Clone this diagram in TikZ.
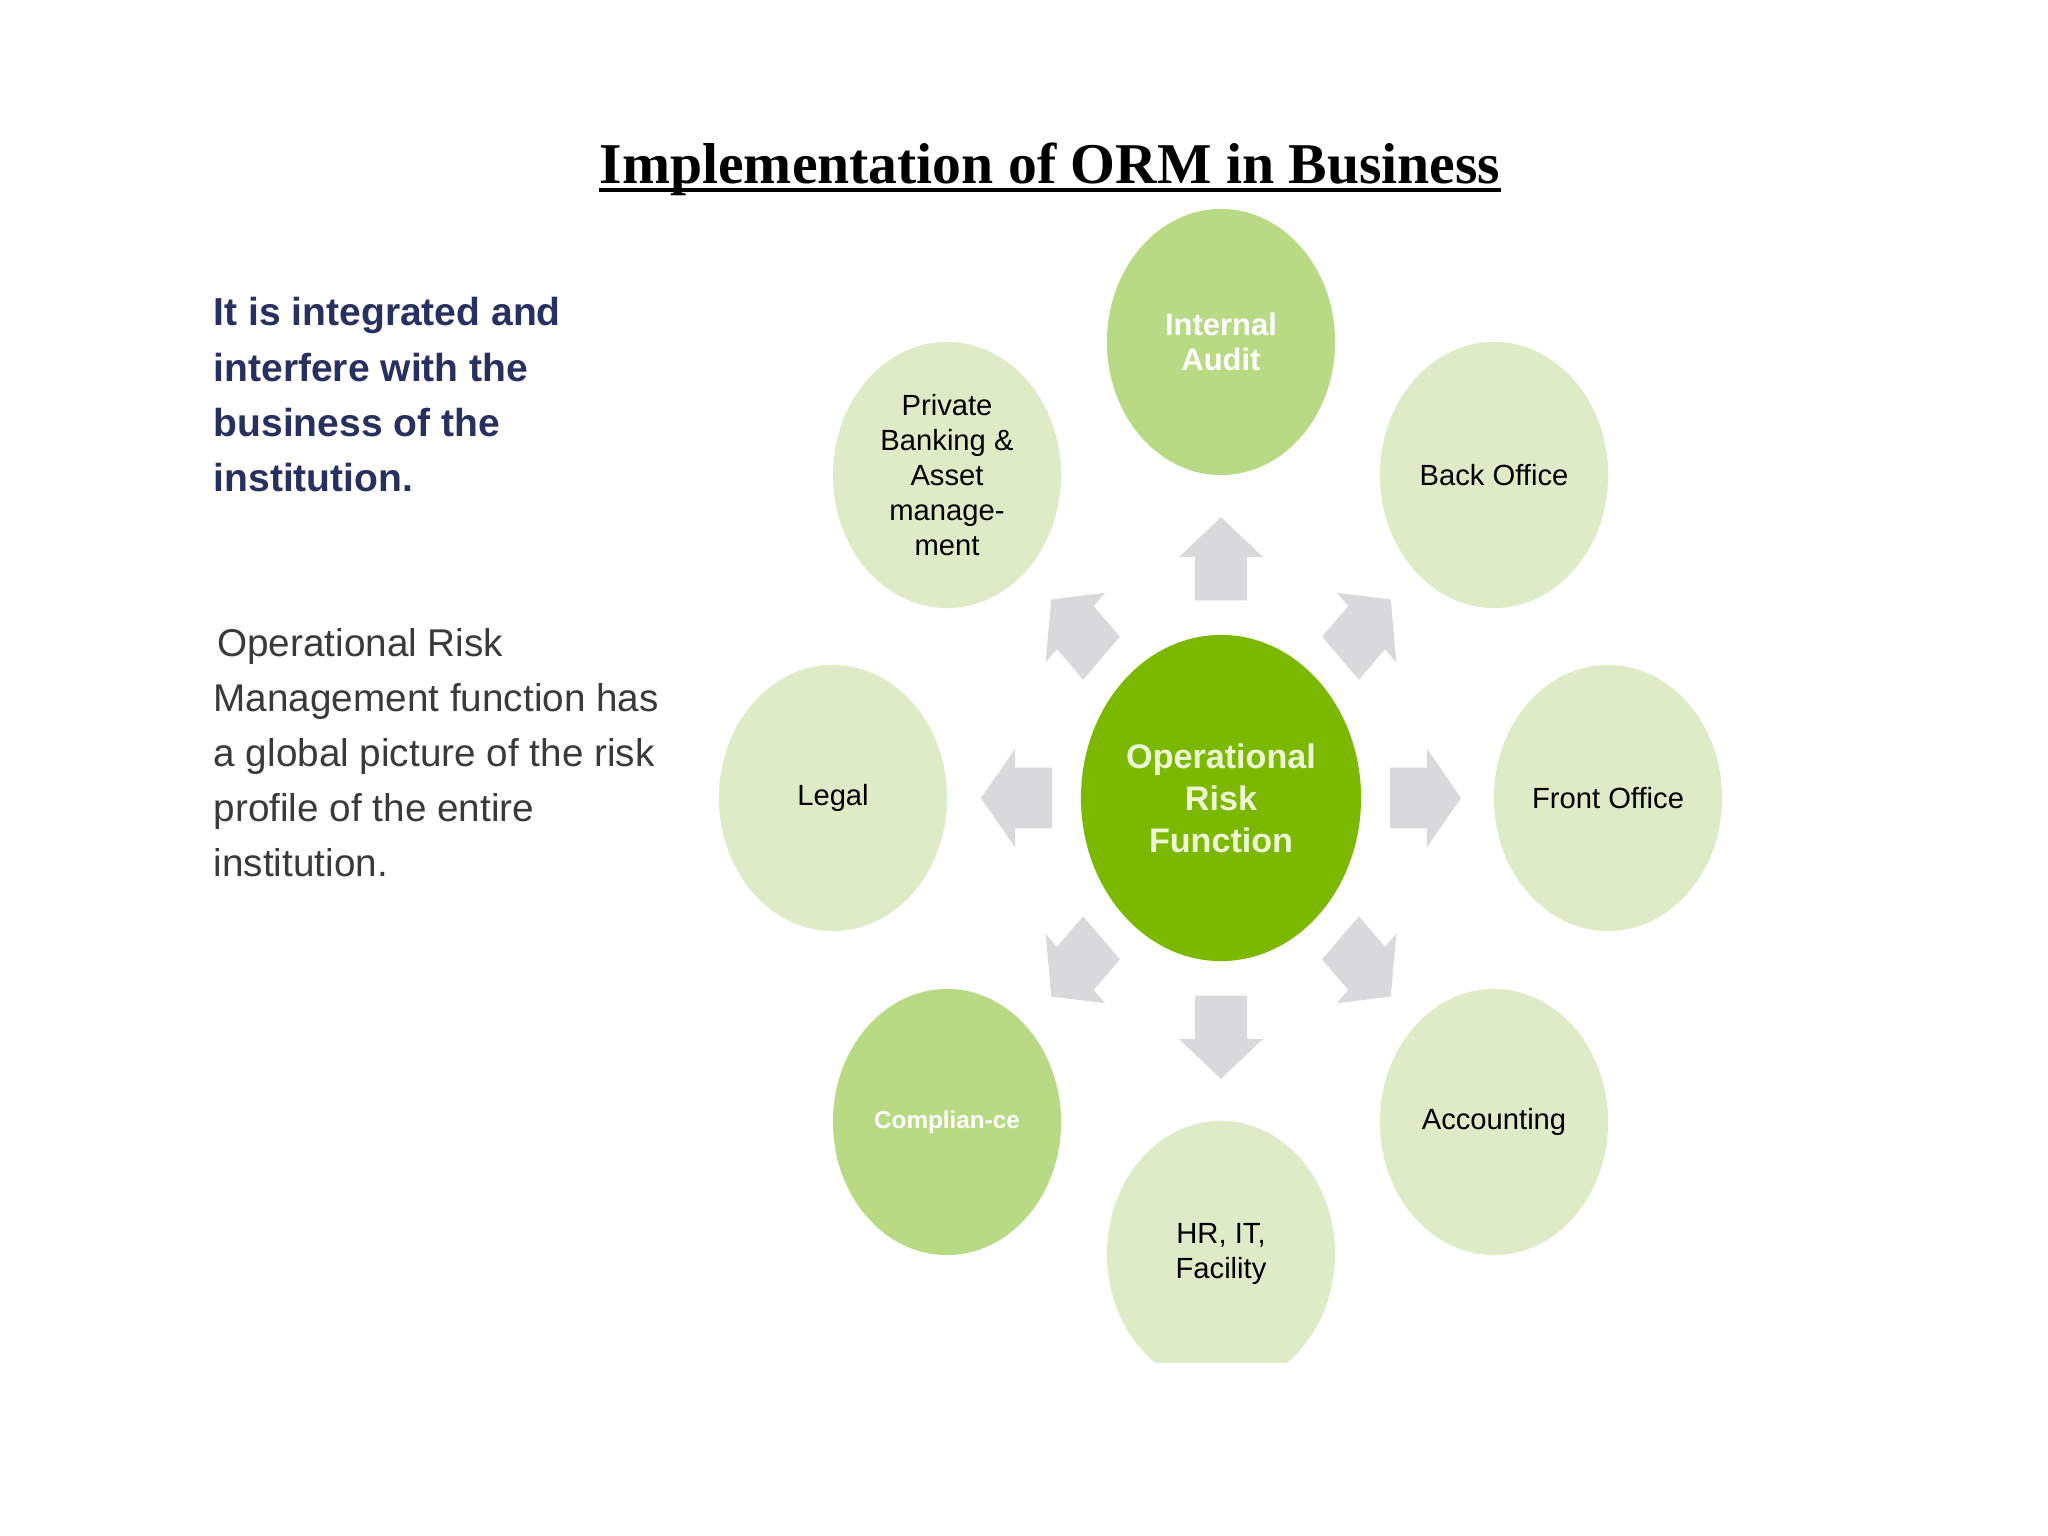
\documentclass[tikz,border=0pt]{standalone}
\usepackage{fontspec}
\setmainfont{Liberation Sans}
\newfontfamily\titlefont{Liberation Serif}
\usetikzlibrary{shapes.geometric}
\definecolor{corecol}{HTML}{7CB800}
\definecolor{midgreen}{HTML}{B8DA84}
\definecolor{palegreen}{HTML}{DFEAC6}
\definecolor{arrowgray}{HTML}{D9D9DB}
\definecolor{navytext}{HTML}{27305E}
\definecolor{graytext}{HTML}{3A3A3A}
\definecolor{coretext}{HTML}{EDF7D6}
\begin{document}
\begin{tikzpicture}[x=0.01cm,y=-0.01cm,
  bubble/.style={ellipse, inner sep=0pt, minimum width=2.28cm, minimum height=2.66cm, align=center},
  pale/.style={bubble, fill=palegreen, text=black, font=\fontsize{8.3}{10}\selectfont},
  mid/.style={bubble, fill=midgreen, text=white, font=\bfseries\fontsize{8.8}{10}\selectfont},
  core/.style={ellipse, inner sep=0pt, minimum width=2.8cm, minimum height=3.26cm, align=center, fill=corecol, text=coretext, font=\bfseries\fontsize{9.7}{12}\selectfont},
  blockarrow/.style={fill=arrowgray},
  para/.style={anchor=north west, align=left, inner sep=0pt}]
\useasboundingbox[fill=white] (0,0) rectangle (2048,1536);

% title
\node[anchor=base, inner sep=0pt, font=\titlefont\bfseries\fontsize{16.4}{20}\selectfont] (title) at (1050,183) {Implementation of ORM in Business};
\draw[line width=1.1pt] ([yshift=-0.07cm]title.base west) -- ([yshift=-0.07cm]title.base east);

% left text
\node[para, text=navytext, font=\bfseries\fontsize{11.1}{15.65}\selectfont] (p1) at (213,297) {It is integrated and\\interfere with the\\business of the\\institution.};
\node[para, text=graytext, font=\fontsize{11}{15.65}\selectfont] (p2) at (213,628) {\hspace{1pt}Operational Risk\\Management function has\\a global picture of the risk\\profile of the entire\\institution.};

% centre
\node[core] (c) at (1221,798) {Operational\\Risk\\Function};

% surrounding bubbles
\node[mid] (ia) at (1221,342) {Internal\\Audit};
\node[pale] (bo) at (1494,475) {Back Office};
\node[pale] (fo) at (1608,798) {Front Office};
\node[pale] (acc) at (1494,1122) {Accounting};
\begin{scope}
  \clip (0,0) rectangle (2048,1362);
  \node[pale] (hr) at (1221,1254) {HR, IT,\\Facility};
\end{scope}
\node[mid, font=\bfseries\fontsize{6.9}{8}\selectfont] (comp) at (947,1122) {Complian-ce};
\node[pale] (legal) at (833,798) {Legal};
\node[pale] (pb) at (947,475) {Private\\Banking \&\\Asset\\manage-\\ment};

% block arrows from the centre outwards
\foreach \ang in {0,45,...,315}
  \fill[blockarrow, shift={(c.center)}, yscale=1.17, rotate=\ang]
    (169,-26) -- (206,-26) -- (206,-42) -- (240,0) -- (206,42) -- (206,26) -- (169,26) -- cycle;
\end{tikzpicture}
\end{document}
